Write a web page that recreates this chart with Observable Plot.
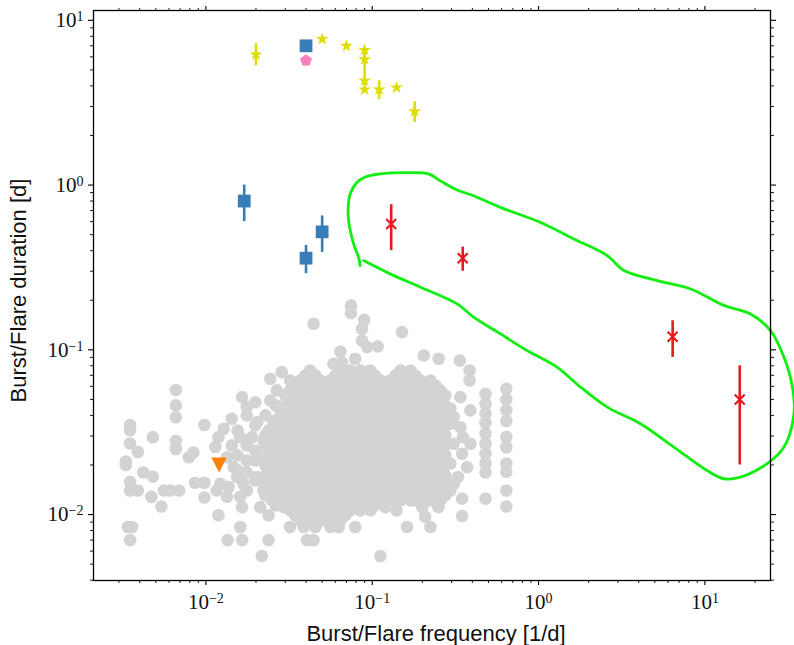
<!DOCTYPE html>
<html>
<head>
<meta charset="utf-8">
<script src="https://cdn.jsdelivr.net/npm/d3@7"></script>
<script src="https://cdn.jsdelivr.net/npm/@observablehq/plot@0.6"></script>
<style>
  body { margin: 0; background: #fff; }
</style>
</head>
<body>
<div id="chart"></div>
<script>
// ---- Axis ticks ----
const xMajor = [0.01, 0.1, 1, 10];
const xMajorLabels = ["10^\u22122", "10^\u22121", "10^0", "10^1"];
const xMinor = [0.003, 0.004, 0.005, 0.006, 0.007, 0.008, 0.009,
                0.02, 0.03, 0.04, 0.05, 0.06, 0.07, 0.08, 0.09,
                0.2, 0.3, 0.4, 0.5, 0.6, 0.7, 0.8, 0.9,
                2, 3, 4, 5, 6, 7, 8, 9, 20];
const yMajor = [0.01, 0.1, 1, 10];
const yMajorLabels = ["10^\u22122", "10^\u22121", "10^0", "10^1"];
const yMinor = [0.004, 0.005, 0.006, 0.007, 0.008, 0.009,
                0.02, 0.03, 0.04, 0.05, 0.06, 0.07, 0.08, 0.09,
                0.2, 0.3, 0.4, 0.5, 0.6, 0.7, 0.8, 0.9,
                2, 3, 4, 5, 6, 7, 8, 9];

// ---- Yellow stars (with optional error bars) ----
const starFreq = [0.02, 0.05, 0.07, 0.09, 0.09, 0.09, 0.09, 0.11, 0.14, 0.18];
const starDur  = [6.2, 7.7, 7.0, 6.6, 5.8, 4.3, 3.8, 3.8, 3.9, 2.8];
const starLo   = [5.3, null, null, null, 4.0, null, null, 3.3, null, 2.4];
const starHi   = [7.2, null, null, null, 6.3, null, null, 4.3, null, 3.2];

// ---- Blue squares ----
const squareFreq = [0.04, 0.017, 0.05, 0.04];
const squareDur  = [7.0, 0.80, 0.52, 0.36];
const squareLo   = [null, 0.60, 0.39, 0.29];
const squareHi   = [null, 1.0, 0.65, 0.43];

// ---- Pink pentagon ----
const pentFreq = [0.04];
const pentDur  = [5.7];

// ---- Orange downward triangle ----
const triFreq = [0.012];
const triDur  = [0.020];

// ---- Red crosses ----
const crossFreq = [0.13, 0.35, 6.4, 16.2];
const crossDur  = [0.58, 0.36, 0.12, 0.05];
const crossLo   = [0.40, 0.30, 0.09, 0.02];
const crossHi   = [0.76, 0.42, 0.15, 0.08];

// ---- Green contour ----
const contourFreq = [0.0847, 0.0828, 0.0773, 0.0721, 0.0718, 0.0738, 0.0802, 0.0908, 0.112, 0.158,
                     0.218, 0.257, 0.321, 0.407, 0.590, 1.03, 1.63, 2.59, 3.26, 5.18,
                     8.20, 13.0, 18.8, 24.8, 29.9, 33.6, 34.3, 29.9, 23.7, 16.4,
                     13.0, 10.3, 6.50, 4.10, 2.59, 1.79, 1.29, 0.853, 0.590, 0.407,
                     0.324, 0.195, 0.128, 0.0887];
const contourDur  = [0.324, 0.364, 0.439, 0.608, 0.749, 0.885, 1.03, 1.12, 1.17, 1.19,
                     1.17, 1.06, 0.937, 0.861, 0.732, 0.593, 0.471, 0.373, 0.303, 0.263,
                     0.234, 0.186, 0.165, 0.131, 0.0902, 0.0593, 0.0409, 0.0257, 0.0204, 0.0169,
                     0.0165, 0.0185, 0.0257, 0.0356, 0.0449, 0.0593, 0.0785, 0.099, 0.125, 0.158,
                     0.190, 0.240, 0.289, 0.348];

// ---- Grey population: sparse points [frequency, duration] ----
const greyScatter = [
  [0.0035,0.035],[0.0035,0.0325],[0.0035,0.027],[0.0033,0.021],[0.0033,0.020],[0.0039,0.024],
  [0.0035,0.0158],[0.0035,0.014],[0.0039,0.014],[0.0042,0.018],[0.0048,0.017],[0.0047,0.0128],
  [0.0054,0.0112],[0.0034,0.0084],[0.0036,0.0084],[0.0035,0.007],[0.0048,0.0295],
  [0.0066,0.057],[0.0066,0.046],[0.0066,0.039],[0.0066,0.028],[0.0066,0.025],
  [0.0056,0.014],[0.0061,0.014],[0.0069,0.014],
  [0.0079,0.0223],[0.0084,0.0238],[0.0086,0.0156],[0.0098,0.0156],[0.0098,0.035],[0.0098,0.0127],
  [0.0119,0.0099],[0.0135,0.007],[0.0161,0.0084],[0.0165,0.007],[0.0217,0.0056],[0.0238,0.007],
  [0.032,0.0084],[0.0387,0.0084],[0.0455,0.0084],[0.0405,0.007],[0.0444,0.007],[0.056,0.0084],
  [0.063,0.0084],[0.079,0.0084],[0.112,0.0056],[0.162,0.0084],[0.224,0.0084],[0.347,0.0098],[0.347,0.0125],
  [0.0444,0.144],[0.0745,0.186],[0.0745,0.167],[0.0895,0.152],[0.0868,0.134],[0.0868,0.114],
  [0.0931,0.104],[0.108,0.105],[0.151,0.128],[0.0643,0.0977],[0.0585,0.0822],[0.0658,0.0841],
  [0.079,0.0882],[0.0286,0.0732],[0.0244,0.0667],[0.204,0.0924],[0.251,0.0882],[0.336,0.0861],
  [0.385,0.0749],[0.385,0.0651],
  [0.0165,0.0516],[0.0176,0.0449],[0.0198,0.0481],[0.0189,0.0295],[0.0161,0.0295],[0.0143,0.0263],
  [0.0134,0.0223],[0.0147,0.0194],[0.0154,0.0169],[0.0176,0.0181],[0.0203,0.0169],[0.0222,0.014],
  [0.0168,0.0154],[0.0161,0.0128],[0.0165,0.0111],[0.0134,0.0128],[0.0116,0.014],[0.0122,0.0154],
  [0.0137,0.0147],[0.0119,0.0295],[0.0128,0.0332],[0.0114,0.0257],[0.0212,0.0111],[0.0238,0.0099],
  [0.0293,0.0111],[0.0286,0.0128],[0.025,0.0122],[0.0244,0.0493],[0.028,0.0429],[0.0255,0.0356],
  [0.0286,0.0213],[0.0293,0.0257],[0.0267,0.031],[0.0238,0.0324],[0.0233,0.0257],[0.0212,0.0223],
  [0.0255,0.0173],[0.0203,0.0364],[0.0222,0.0282],[0.0244,0.0223],[0.0286,0.0154],[0.0233,0.0154],
  [0.0267,0.0567],[0.0307,0.0185],[0.0307,0.014],[0.0307,0.0356],[0.0307,0.0493],[0.0143,0.0382],
  [0.295,0.044],[0.309,0.0391],[0.339,0.0516],[0.389,0.0429],[0.339,0.0339],[0.351,0.0295],
  [0.347,0.0234],[0.295,0.0204],[0.372,0.0194],[0.295,0.014],[0.309,0.0154],[0.328,0.0169],
  [0.389,0.0269],[0.309,0.0269],[0.295,0.0356],
  [0.12,0.0111],[0.14,0.0106],[0.181,0.0122],[0.2,0.0111],[0.208,0.0097],[0.25,0.0111]
];

// ---- Grey population: filled frequency columns [frequency, durations] ----
const greyColumns = [
  // left flank
  [0.0155, [0.0324,0.0229,0.0185]],
  [0.0176, [0.0400,0.0263,0.0213,0.0140]],
  [0.0198, [0.0348,0.0245,0.0213,0.0161]],
  [0.0228, [0.0400,0.0303,0.0263,0.0199,0.0173,0.0151,0.0131]],
  [0.0262, [0.0460,0.0373,0.0324,0.0282,0.0245,0.0213,0.0185,0.0161,0.0140,0.0114]],
  [0.0301, [0.0529,0.0460,0.0400,0.0348,0.0303,0.0263,0.0229,0.0199,0.0173,0.0151,0.0131,0.0114]],
  // core
  [0.0321, [0.0651,0.0567,0.0493,0.0429,0.0373,0.0324,0.0282,0.0245,0.0213,0.0185,0.0161,0.0140,0.0122,0.0106]],
  [0.0344, [0.0608,0.0529,0.0460,0.0400,0.0348,0.0303,0.0263,0.0229,0.0199,0.0173,0.0151,0.0131,0.0114,0.0099]],
  [0.0369, [0.0651,0.0567,0.0493,0.0429,0.0373,0.0324,0.0282,0.0245,0.0213,0.0185,0.0161,0.0140,0.0122,0.0106,0.0092]],
  [0.0396, [0.0699,0.0608,0.0529,0.0460,0.0400,0.0348,0.0303,0.0263,0.0229,0.0199,0.0173,0.0151,0.0131,0.0114,0.0099]],
  [0.0424, [0.0749,0.0651,0.0567,0.0493,0.0429,0.0373,0.0324,0.0282,0.0245,0.0213,0.0185,0.0161,0.0140,0.0122,0.0106,0.0092]],
  [0.0455, [0.0699,0.0608,0.0529,0.0460,0.0400,0.0348,0.0303,0.0263,0.0229,0.0199,0.0173,0.0151,0.0131,0.0114,0.0099]],
  [0.0487, [0.0651,0.0567,0.0493,0.0429,0.0373,0.0324,0.0282,0.0245,0.0213,0.0185,0.0161,0.0140,0.0122,0.0106,0.0092]],
  [0.0523, [0.0608,0.0529,0.0460,0.0400,0.0348,0.0303,0.0263,0.0229,0.0199,0.0173,0.0151,0.0131,0.0114,0.0099]],
  [0.0560, [0.0651,0.0567,0.0493,0.0429,0.0373,0.0324,0.0282,0.0245,0.0213,0.0185,0.0161,0.0140,0.0122,0.0106,0.0092]],
  [0.0600, [0.0699,0.0608,0.0529,0.0460,0.0400,0.0348,0.0303,0.0263,0.0229,0.0199,0.0173,0.0151,0.0131,0.0114,0.0099]],
  [0.0643, [0.0749,0.0651,0.0567,0.0493,0.0429,0.0373,0.0324,0.0282,0.0245,0.0213,0.0185,0.0161,0.0140,0.0122,0.0106,0.0092]],
  [0.0689, [0.0699,0.0608,0.0529,0.0460,0.0400,0.0348,0.0303,0.0263,0.0229,0.0199,0.0173,0.0151,0.0131,0.0114,0.0099]],
  [0.0738, [0.0749,0.0651,0.0567,0.0493,0.0429,0.0373,0.0324,0.0282,0.0245,0.0213,0.0185,0.0161,0.0140,0.0122,0.0106]],
  [0.0791, [0.0699,0.0608,0.0529,0.0460,0.0400,0.0348,0.0303,0.0263,0.0229,0.0199,0.0173,0.0151,0.0131,0.0114]],
  [0.0848, [0.0749,0.0651,0.0567,0.0493,0.0429,0.0373,0.0324,0.0282,0.0245,0.0213,0.0185,0.0161,0.0140,0.0122,0.0106]],
  [0.0908, [0.0699,0.0608,0.0529,0.0460,0.0400,0.0348,0.0303,0.0263,0.0229,0.0199,0.0173,0.0151,0.0131,0.0114]],
  [0.0975, [0.0749,0.0651,0.0567,0.0493,0.0429,0.0373,0.0324,0.0282,0.0245,0.0213,0.0185,0.0161,0.0140,0.0122,0.0106]],
  [0.104,  [0.0699,0.0608,0.0529,0.0460,0.0400,0.0348,0.0303,0.0263,0.0229,0.0199,0.0173,0.0151,0.0131,0.0114]],
  [0.112,  [0.0651,0.0567,0.0493,0.0429,0.0373,0.0324,0.0282,0.0245,0.0213,0.0185,0.0161,0.0140,0.0122]],
  [0.120,  [0.0608,0.0529,0.0460,0.0400,0.0348,0.0303,0.0263,0.0229,0.0199,0.0173,0.0151,0.0131]],
  [0.128,  [0.0651,0.0567,0.0493,0.0429,0.0373,0.0324,0.0282,0.0245,0.0213,0.0185,0.0161,0.0140,0.0122]],
  [0.138,  [0.0699,0.0608,0.0529,0.0460,0.0400,0.0348,0.0303,0.0263,0.0229,0.0199,0.0173,0.0151,0.0131]],
  [0.148,  [0.0749,0.0651,0.0567,0.0493,0.0429,0.0373,0.0324,0.0282,0.0245,0.0213,0.0185,0.0161,0.0140,0.0122]],
  [0.158,  [0.0699,0.0608,0.0529,0.0460,0.0400,0.0348,0.0303,0.0263,0.0229,0.0199,0.0173,0.0151,0.0131]],
  [0.170,  [0.0749,0.0651,0.0567,0.0493,0.0429,0.0373,0.0324,0.0282,0.0245,0.0213,0.0185,0.0161,0.0140,0.0122]],
  [0.182,  [0.0699,0.0608,0.0529,0.0460,0.0400,0.0348,0.0303,0.0263,0.0229,0.0199,0.0173,0.0151,0.0131]],
  [0.195,  [0.0651,0.0567,0.0493,0.0429,0.0373,0.0324,0.0282,0.0245,0.0213,0.0185,0.0161,0.0140,0.0122]],
  [0.209,  [0.0608,0.0529,0.0460,0.0400,0.0348,0.0303,0.0263,0.0229,0.0199,0.0173,0.0151,0.0131]],
  [0.224,  [0.0651,0.0567,0.0493,0.0429,0.0373,0.0324,0.0282,0.0245,0.0213,0.0185,0.0161,0.0140,0.0122]],
  [0.240,  [0.0608,0.0529,0.0460,0.0400,0.0348,0.0303,0.0263,0.0229,0.0199,0.0173,0.0151,0.0131]],
  [0.257,  [0.0567,0.0493,0.0429,0.0373,0.0324,0.0282,0.0245,0.0213,0.0185,0.0161,0.0140,0.0122]],
  [0.275,  [0.0529,0.0460,0.0400,0.0348,0.0303,0.0263,0.0229,0.0199,0.0173,0.0151,0.0131]],
  // right-hand columns
  [0.48,   [0.054,0.047,0.041,0.036,0.031,0.027,0.0235,0.0205,0.018,0.0125]],
  [0.64,   [0.058,0.050,0.043,0.037,0.0296,0.0256,0.0204,0.0182,0.014,0.0112]]
];

// ---- Colours ----
const C = {
  grey: "#d3d3d3", yellow: "#dede00", blue: "#377eb8", pink: "#f781bf",
  orange: "#ff7f00", red: "#e41a1c", green: "#11ee11"
};

// ---- Tables for the marks ----
const grey = [
  ...greyScatter.map(([f, d]) => ({f, d})),
  ...greyColumns.flatMap(([f, ds]) => ds.map(d => ({f, d})))
];
const zip = (fs, ds, lo, hi) => fs.map((f, i) => ({f, d: ds[i], lo: lo ? lo[i] : null, hi: hi ? hi[i] : null}));
const stars = zip(starFreq, starDur, starLo, starHi);
const squares = zip(squareFreq, squareDur, squareLo, squareHi);
const pent = zip(pentFreq, pentDur);
const tri = zip(triFreq, triDur);
const crosses = zip(crossFreq, crossDur, crossLo, crossHi);
const contour = contourFreq.map((f, i) => ({f, d: contourDur[i]}));
const withErr = a => a.filter(p => p.lo != null);

// ---- Custom marker shapes ----
const pentagon = {
  draw(ctx, size) {
    const r = Math.sqrt(size / (2.5 * Math.sin(2 * Math.PI / 5)));
    for (let i = 0; i < 5; i++) {
      const a = -Math.PI / 2 + i * 2 * Math.PI / 5;
      const x = r * Math.cos(a), y = r * Math.sin(a);
      if (i) ctx.lineTo(x, y); else ctx.moveTo(x, y);
    }
    ctx.closePath();
  }
};
const triangleDown = {
  draw(ctx, size) {
    const s = Math.sqrt(size / Math.PI);
    ctx.moveTo(0, s); ctx.lineTo(-s, -s); ctx.lineTo(s, -s); ctx.closePath();
  }
};
const xCross = {
  draw(ctx, size) {
    const s = Math.sqrt(size / Math.PI);
    ctx.moveTo(-s, -s); ctx.lineTo(s, s); ctx.moveTo(-s, s); ctx.lineTo(s, -s);
  }
};

const serif = "'Liberation Serif', 'DejaVu Serif', serif";
const sans = "'Liberation Sans', 'DejaVu Sans', sans-serif";

const chart = Plot.plot({
  width: 794,
  height: 645,
  marginLeft: 93,
  marginRight: 24,
  marginTop: 10,
  marginBottom: 65,
  x: {type: "log", domain: [0.00211, 24.8], axis: null},
  y: {type: "log", domain: [0.00398, 11.47], axis: null},
  marks: [
    // population cloud
    Plot.dot(grey, {x: "f", y: "d", r: 6.3, fill: C.grey, stroke: "none"}),
    // contour
    Plot.line(contour, {x: "f", y: "d", stroke: C.green, strokeWidth: 2.8, curve: "catmull-rom"}),
    // error bars
    Plot.ruleX(withErr(stars), {x: "f", y1: "lo", y2: "hi", stroke: C.yellow, strokeWidth: 2.6}),
    Plot.ruleX(withErr(squares), {x: "f", y1: "lo", y2: "hi", stroke: C.blue, strokeWidth: 2.6}),
    Plot.ruleX(withErr(crosses), {x: "f", y1: "lo", y2: "hi", stroke: C.red, strokeWidth: 2.6}),
    // markers
    Plot.dot(stars, {x: "f", y: "d", symbol: "star", r: 4.1, fill: C.yellow, stroke: "none"}),
    Plot.dot(squares, {x: "f", y: "d", symbol: "square", r: 7.2, fill: C.blue, stroke: "none"}),
    Plot.dot(pent, {x: "f", y: "d", symbol: pentagon, r: 5.4, fill: C.pink, stroke: "none"}),
    Plot.dot(tri, {x: "f", y: "d", symbol: triangleDown, r: 7.6, fill: C.orange, stroke: "none"}),
    Plot.dot(crosses, {x: "f", y: "d", symbol: xCross, r: 5, fill: "none", stroke: C.red, strokeWidth: 2.2}),
    // frame and ticks on all four sides
    Plot.frame({stroke: "black", strokeWidth: 1.3}),
    Plot.axisX(xMajor, {anchor: "bottom", tickSize: 5, fill: "none", stroke: "black", strokeWidth: 1.1}),
    Plot.axisX(xMinor, {anchor: "bottom", tickSize: 3, fill: "none", stroke: "black", strokeWidth: 0.9}),
    Plot.axisX(xMajor, {anchor: "top", tickSize: 5, fill: "none", stroke: "black", strokeWidth: 1.1}),
    Plot.axisX(xMinor, {anchor: "top", tickSize: 3, fill: "none", stroke: "black", strokeWidth: 0.9}),
    Plot.axisY(yMajor, {anchor: "left", tickSize: 5, fill: "none", stroke: "black", strokeWidth: 1.1}),
    Plot.axisY(yMinor, {anchor: "left", tickSize: 3, fill: "none", stroke: "black", strokeWidth: 0.9}),
    Plot.axisY(yMajor, {anchor: "right", tickSize: 5, fill: "none", stroke: "black", strokeWidth: 1.1}),
    Plot.axisY(yMinor, {anchor: "right", tickSize: 3, fill: "none", stroke: "black", strokeWidth: 0.9}),
    // tick labels
    Plot.text(xMajor, {x: d => d, text: (d, i) => xMajorLabels[i], frameAnchor: "bottom", dy: 22,
      textAnchor: "middle", lineAnchor: "middle", fontFamily: serif, fontSize: 21, fill: "#111"}),
    Plot.text(yMajor, {y: d => d, text: (d, i) => yMajorLabels[i], frameAnchor: "left", dx: -10,
      textAnchor: "end", lineAnchor: "middle", fontFamily: serif, fontSize: 21, fill: "#111"}),
    // axis titles
    Plot.text(["Burst/Flare frequency [1/d]"], {text: d => d, frameAnchor: "bottom", dy: 53, dx: 4,
      textAnchor: "middle", lineAnchor: "middle", fontFamily: sans, fontSize: 22, fill: "#111"}),
    Plot.text(["Burst/Flare duration [d]"], {text: d => d, frameAnchor: "left", dx: -75, dy: -5, rotate: -90,
      textAnchor: "middle", lineAnchor: "middle", fontFamily: sans, fontSize: 22, fill: "#111"})
  ]
});

// Render powers of ten with a raised exponent
const NS = "http://www.w3.org/2000/svg";
chart.querySelectorAll("text").forEach(t => {
  const s = t.textContent;
  if (!s.includes("^")) return;
  const [base, exp] = s.split("^");
  t.textContent = "";
  const a = document.createElementNS(NS, "tspan");
  a.textContent = base;
  const b = document.createElementNS(NS, "tspan");
  b.textContent = exp;
  b.setAttribute("dy", "-0.42em");
  b.setAttribute("font-size", "14");
  t.append(a, b);
});

document.getElementById("chart").append(chart);
</script>
</body>
</html>
